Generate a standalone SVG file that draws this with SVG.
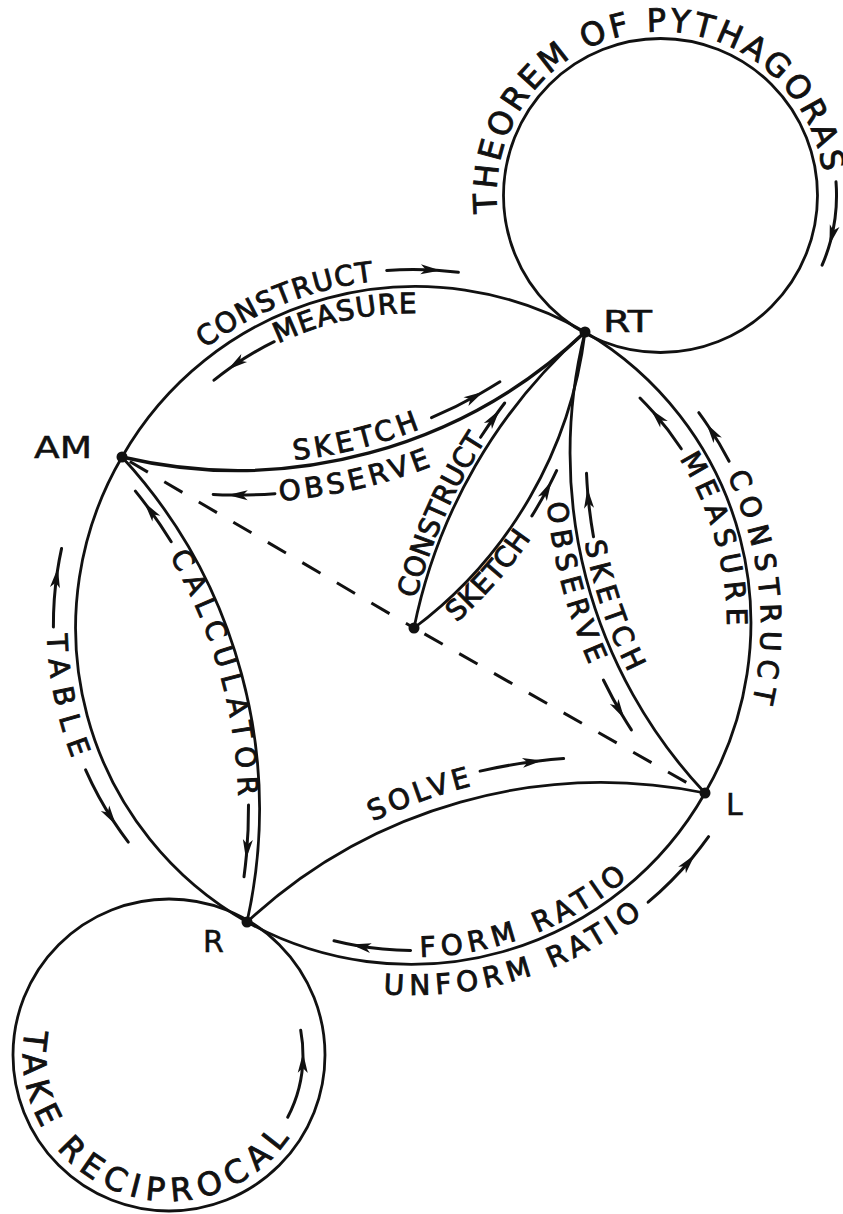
<svg xmlns="http://www.w3.org/2000/svg" width="843" height="1214" viewBox="0 0 843 1214">
<style>
.ln{fill:none;stroke:#111;stroke-width:2.8;stroke-linecap:round}
.thick{stroke-width:3.4}
.dash{fill:none;stroke:#111;stroke-width:3;stroke-dasharray:21 19}
.ar{fill:none;stroke:#111;stroke-width:3;stroke-linecap:round;marker-mid:url(#ah)}
.lb{font-family:"DejaVu Sans","Liberation Sans",sans-serif;font-size:28px;fill:#111;stroke:#111;stroke-width:0.9}
.nl{font-family:"DejaVu Sans","Liberation Sans",sans-serif;font-size:30px;fill:#111;stroke:#111;stroke-width:0.5}
.cl{font-family:"DejaVu Sans","Liberation Sans",sans-serif;font-size:32px;fill:#111;stroke:#111;stroke-width:0.9}
.dot{fill:#111}
</style>
<defs>
<marker id="ah" markerUnits="userSpaceOnUse" markerWidth="26" markerHeight="14" viewBox="-20 -7 26 14" refX="0" refY="0" orient="auto" overflow="visible"><path d="M4,0 L-16,-5 L-11,0 L-16,5 Z" fill="#111"/></marker>
<path id="p1" d="M204.8,348.7 A346,346 0 0 1 413,279"/>
<path id="p2" d="M278.2,343.6 A312,312 0 0 1 445.6,314.7"/>
<path id="p3" d="M727.1,475.2 A348,348 0 0 1 740,744"/>
<path id="p4" d="M679.3,458.6 A314,314 0 0 1 725.8,652.4"/>
<path id="p5" d="M47.1,634.6 A366,366 0 0 0 96,808"/>
<path id="p6" d="M169.4,556.2 A499,499 0 0 1 238.2,826.8"/>
<path id="p7" d="M294.1,460.3 A498,498 0 0 0 486.7,396.8"/>
<path id="p8" d="M279.8,500.9 A537,537 0 0 0 489.8,439.6"/>
<path id="p9" d="M416.2,598.7 A540,540 0 0 1 537.7,372.6"/>
<path id="p10" d="M456.5,622.7 A457.5,457.5 0 0 0 568,473.3"/>
<path id="p11" d="M584.8,542.1 A489,489 0 0 0 691,767.3"/>
<path id="p12" d="M547,502.9 A521,521 0 0 0 638.8,751.8"/>
<path id="p13" d="M372.8,821.6 A533,533 0 0 1 528.1,774.9"/>
<path id="p14" d="M420,956.9 A332,332 0 0 0 667.3,838.4"/>
<path id="p15" d="M383.3,993.8 A370,370 0 0 0 674.6,886.6"/>
<path id="p16" d="M497.4,212.6 A164,164 0 1 1 824.4,189.8"/>
<path id="p17" d="M25.2,1029.6 A146,146 0 0 0 306.2,1104.9"/>
</defs>
<rect width="843" height="1214" fill="#fff"/>

<g id="connectors">
  <path id="e-am-rt-outer" class="ln" d="M122,457 A338,338 0 0 1 585,332"/>
  <path id="e-rt-l-outer" class="ln" d="M585,332 A338,338 0 0 1 705,793"/>
  <path id="e-l-r-outer" class="ln" d="M705,793 A338,338 0 0 1 247,922"/>
  <path id="e-r-am-outer" class="ln" d="M247,922 A338,338 0 0 1 122,457"/>
  <path id="e-am-rt-inner" class="ln thick" d="M122,457 A505,505 0 0 0 585,332"/>
  <path id="e-rt-l-inner" class="ln" d="M585,332 A496,496 0 0 0 705,793"/>
  <path id="e-l-r-inner" class="ln" d="M705,793 A520,520 0 0 0 247,922"/>
  <path id="e-r-am-inner" class="ln" d="M247,922 A520,520 0 0 0 122,457"/>
  <path id="e-n-rt-construct" class="ln" d="M414,628 A535,535 0 0 1 585,332"/>
  <path id="e-n-rt-sketch" class="ln" d="M414,628 A435,435 0 0 0 585,332"/>
  <path id="e-am-n-dash" class="dash" stroke-dashoffset="31" d="M122,457 L414,628"/>
  <path id="e-n-l-dash" class="dash" stroke-dashoffset="28" d="M414,628 L705,793"/>
  <circle id="loop-rt" class="ln" cx="660.5" cy="195.5" r="157"/>
  <circle id="loop-r" class="ln" cx="169" cy="1055" r="156"/>
  <g id="arrows">
    <path class="ar" d="M386.7,270.4 A355.6,355.6 0 0 1 436.6,270.2 A355.6,355.6 0 0 1 458.4,272.3"/>
    <path class="ar" d="M274.2,341.7 A315.5,315.5 0 0 0 231.1,367.2 A315.5,315.5 0 0 0 214,380.2"/>
    <path class="ar" d="M431.5,417.7 A492,492 0 0 0 479.9,393.7 A492,492 0 0 0 499.9,381.8"/>
    <path class="ar" d="M274.9,493.7 A529.5,529.5 0 0 1 231.7,495 A529.5,529.5 0 0 1 213.2,494.4"/>
    <path class="ar" d="M531.9,515.9 A446,446 0 0 0 549.7,484.6 A446,446 0 0 0 556.6,470.6"/>
    <path class="ar" d="M480.6,437.3 A546,546 0 0 1 497.3,413 A546,546 0 0 1 504.7,403"/>
    <path class="ar" d="M593.5,536.7 A479.5,479.5 0 0 1 587.7,492.3 A479.5,479.5 0 0 1 586.5,473.3"/>
    <path class="ar" d="M603.4,680 A515,515 0 0 0 622.3,715.2 A515,515 0 0 0 631.4,729.9"/>
    <path class="ar" d="M729.1,461.2 A356,356 0 0 0 708.8,427 A356,356 0 0 0 698.8,412.7"/>
    <path class="ar" d="M681.3,448.8 A321,321 0 0 0 653.4,412.3 A321,321 0 0 0 640,398"/>
    <path class="ar" d="M171.2,541.7 A508,508 0 0 0 146.8,505.8 A508,508 0 0 0 135.4,491.1"/>
    <path class="ar" d="M248.5,805 A509,509 0 0 1 246.4,855.5 A509,509 0 0 1 244,876.7"/>
    <path class="ar" d="M53.4,626.9 A359.6,359.6 0 0 1 57.3,571.8 A359.6,359.6 0 0 1 61.6,548.4"/>
    <path class="ar" d="M85.6,769.8 A358,358 0 0 0 113.8,821.6 A358,358 0 0 0 128.3,842.1"/>
    <path class="ar" d="M480.1,771.1 A545.5,545.5 0 0 1 538.4,761 A545.5,545.5 0 0 1 563.6,758.6"/>
    <path class="ar" d="M410.6,950.5 A325.5,325.5 0 0 1 355.1,945.3 A325.5,325.5 0 0 1 334,940.8"/>
    <path class="ar" d="M648.1,902.2 A363.5,363.5 0 0 0 692.3,857.7 A363.5,363.5 0 0 0 708.6,836.6"/>
    <path class="ar" d="M836,181.8 A176,176 0 0 1 830.5,241.1 A176,176 0 0 1 822.1,265.2"/>
    <path class="ar" d="M287.7,1117.2 A134,134 0 0 0 303,1056.9 A134,134 0 0 0 300.7,1030.2"/>
  </g>
  <g id="edge-labels">
    <text class="lb"><textPath href="#p1" textLength="184" lengthAdjust="spacing">CONSTRUCT</textPath></text>
    <text class="lb"><textPath href="#p2" textLength="143" lengthAdjust="spacing">MEASURE</textPath></text>
    <text class="lb"><textPath href="#p3" textLength="232" lengthAdjust="spacing">CONSTRUCT</textPath></text>
    <text class="lb"><textPath href="#p4" textLength="176" lengthAdjust="spacing">MEASURE</textPath></text>
    <text class="lb"><textPath href="#p5" textLength="127" lengthAdjust="spacing">TABLE</textPath></text>
    <text class="lb"><textPath href="#p6" textLength="252" lengthAdjust="spacing">CALCULATOR</textPath></text>
    <text class="lb"><textPath href="#p7" textLength="130" lengthAdjust="spacing">SKETCH</textPath></text>
    <text class="lb"><textPath href="#p8" textLength="156" lengthAdjust="spacing">OBSERVE</textPath></text>
    <text class="lb"><textPath href="#p9" textLength="174" lengthAdjust="spacing">CONSTRUCT</textPath></text>
    <text class="lb"><textPath href="#p10" textLength="113" lengthAdjust="spacing">SKETCH</textPath></text>
    <text class="lb"><textPath href="#p11" textLength="138" lengthAdjust="spacing">SKETCH</textPath></text>
    <text class="lb"><textPath href="#p12" textLength="168" lengthAdjust="spacing">OBSERVE</textPath></text>
    <text class="lb"><textPath href="#p13" textLength="105" lengthAdjust="spacing">SOLVE</textPath></text>
    <text class="lb"><textPath href="#p14" textLength="226" lengthAdjust="spacing">FORM RATIO</textPath></text>
    <text class="lb"><textPath href="#p15" textLength="277" lengthAdjust="spacing">UNFORM RATIO</textPath></text>
    <text class="cl"><textPath href="#p16" textLength="509" lengthAdjust="spacing">THEOREM OF PYTHAGORAS</textPath></text>
    <text class="cl"><textPath href="#p17" textLength="396" lengthAdjust="spacing">TAKE RECIPROCAL</textPath></text>
  </g>
</g>

<g id="node-RT"><circle class="dot" cx="585" cy="332" r="5.5"/><text class="nl" x="603" y="332" textLength="49" lengthAdjust="spacingAndGlyphs">RT</text></g>
<g id="node-AM"><circle class="dot" cx="122" cy="457" r="5.5"/><text class="nl" x="34" y="458" textLength="58" lengthAdjust="spacingAndGlyphs">AM</text></g>
<g id="node-center"><circle class="dot" cx="414" cy="628" r="5.5"/></g>
<g id="node-L"><circle class="dot" cx="705" cy="793" r="5.5"/><text class="nl" x="726" y="815">L</text></g>
<g id="node-R"><circle class="dot" cx="247" cy="922" r="5.5"/><text class="nl" x="203" y="952">R</text></g>
</svg>
